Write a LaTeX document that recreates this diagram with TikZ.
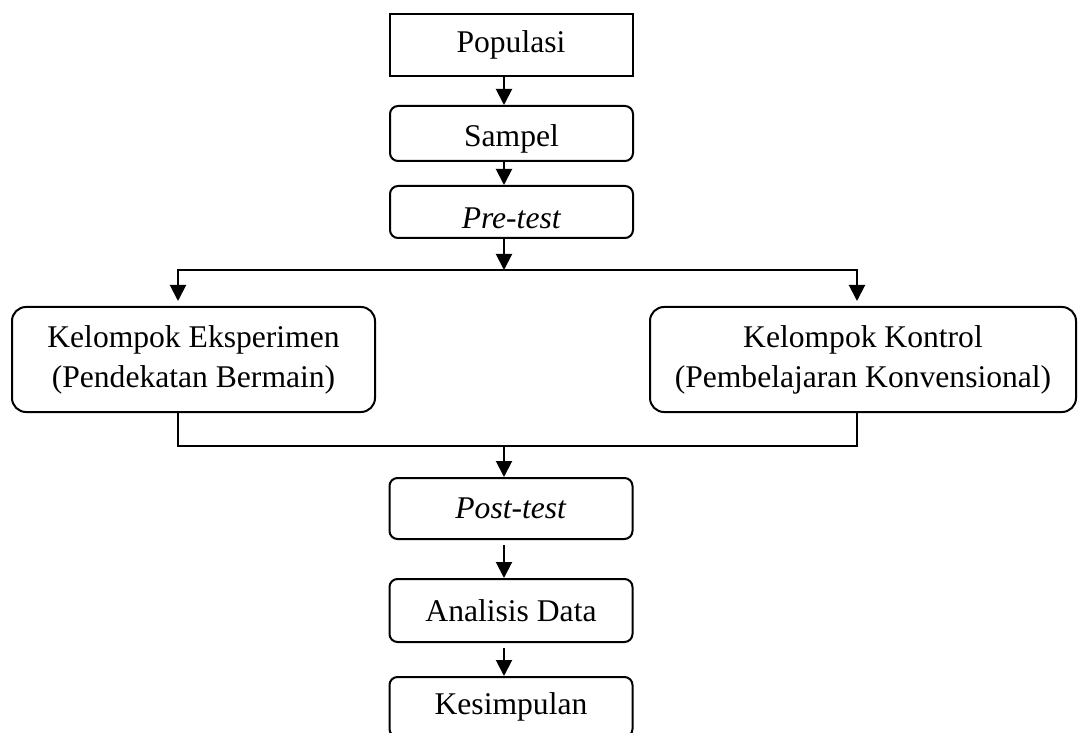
\documentclass[tikz,border=0pt]{standalone}
\usepackage{fontspec}
\setmainfont{Liberation Serif}
\usetikzlibrary{arrows.meta}

\tikzset{
  box/.style={draw, line width=1pt, rounded corners=4pt, minimum width=121.5pt, align=center, inner sep=0pt},
  group/.style={draw, line width=1pt, rounded corners=7pt, minimum height=52.5pt, align=center, inner sep=0pt},
  flow/.style={line width=1pt, -{Triangle[width=8pt, length=8pt]}},
}

\begin{document}
\begin{tikzpicture}[x=0.5pt, y=-0.5pt, font=\fontsize{15.8}{20}\selectfont]
  \useasboundingbox (0, 0) rectangle (1078, 733);
  \clip (0, 0) rectangle (1078, 733);

  \coordinate (spine) at (504, 0);
  \coordinate (left) at (178, 0);
  \coordinate (right) at (857, 0);
  \coordinate (split) at (504, 270);
  \coordinate (join) at (504, 446);

  \node[box, rounded corners=0pt, minimum height=31pt] (pop) at (511, 45) {Populasi};
  \node[box, minimum height=27.5pt, text height=16.4pt, text depth=3.5pt] (samp) at (511.5, 133.5) {Sampel};
  \node[box, minimum height=26pt, text height=20.5pt, text depth=3.5pt] (pre) at (511.5, 212) {\textit{Pre-test}};

  \node[group, minimum width=181.5pt] (eks) at (193.5, 359.5) {Kelompok Eksperimen\\(Pendekatan Bermain)};
  \node[group, minimum width=213pt] (kon) at (863, 359.5) {Kelompok Kontrol\\(Pembelajaran Konvensional)};

  \node[box, minimum height=30.5pt] (post) at (511, 508.5) {\textit{Post-test}};
  \node[box, minimum height=31.5pt] (anl) at (511, 610.5) {Analisis Data};
  \node[box, minimum height=30pt] (kes) at (511, 707) {Kesimpulan};

  \draw[flow] (pop.south -| spine) -- (samp.north -| spine);
  \draw[flow] (samp.south -| spine) -- (pre.north -| spine);
  \draw[flow] (pre.south -| spine) -- (split);
  \draw[flow, shorten >=2.5pt] (split) -| (eks.north -| left);
  \draw[flow, shorten >=2.5pt] (split) -| (kon.north -| right);

  \draw[line width=1pt] (eks.south -| left) |- (join) -| (kon.south -| right);
  \draw[flow] (join) -- (post.north -| spine);
  \draw[flow, shorten <=2.5pt] (post.south -| spine) -- (anl.north -| spine);
  \draw[flow, shorten <=2.5pt] (anl.south -| spine) -- (kes.north -| spine);
\end{tikzpicture}
\end{document}
